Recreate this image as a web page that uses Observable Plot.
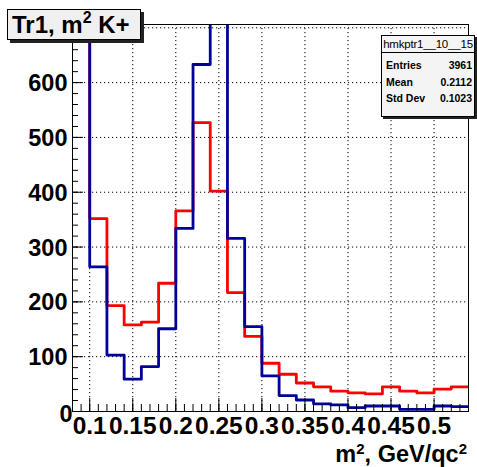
<!DOCTYPE html>
<html>
<head>
<meta charset="utf-8">
<script src="https://cdn.jsdelivr.net/npm/d3@7"></script>
<script src="https://cdn.jsdelivr.net/npm/@observablehq/plot@0.6"></script>
<style>
  html, body { margin: 0; padding: 0; background: #fff; }
  #wrap { position: relative; width: 477px; height: 467px; font-family: "Liberation Sans", Arial, Helvetica, sans-serif; }
  #wrap svg { position: absolute; left: 0; top: 0; }
  .title-box {
    position: absolute; left: 7px; top: 9px; width: 128px; height: 29px;
    background: #f0f0f0; border: 1px solid #000; box-shadow: 3px 3px 0 #222;
    font-weight: bold; font-size: 24px; line-height: 30px; padding-left: 4px; box-sizing: content-box;
    white-space: nowrap;
  }
  .title-box sup { font-size: 16px; position: relative; top: -1px; vertical-align: super; line-height: 0; }
  .xlabel sup { font-size: 15px; position: relative; top: -8px; vertical-align: baseline; line-height: 0; }
  .stats {
    position: absolute; left: 381px; top: 35px; width: 92px; height: 80px;
    background: #f4f4f4; border: 1px solid #000; box-shadow: 2px 2px 0 #222;
    font-size: 10.5px; color: #000;
  }
  .stats .head { height: 16px; line-height: 17px; text-align: center; font-size: 11.5px; border-bottom: 1px solid #000; white-space: nowrap; letter-spacing: -0.2px; }
  .stats .row { display: flex; justify-content: space-between; height: 16.6px; line-height: 16.6px; padding: 0 2px 0 4px; font-weight: bold; }
  .stats .rows { padding-top: 4px; }
  .xlabel { position: absolute; right: 10px; top: 443px; font-weight: bold; font-size: 23.5px; line-height: 22px; white-space: nowrap; }
</style>
</head>
<body>
<div id="wrap"></div>
<script>
// Lower edges of the 0.02-wide m² bins (GeV²/c⁴)
const binStart = [0.08, 0.10, 0.12, 0.14, 0.16, 0.18, 0.20, 0.22, 0.24, 0.26, 0.28, 0.30,
                  0.32, 0.34, 0.36, 0.38, 0.40, 0.42, 0.44, 0.46, 0.48, 0.50, 0.52];
const binEnd = 0.54;
// Bin contents, red histogram
const redCounts = [780, 352, 193, 158, 163, 234, 366, 527, 402, 217, 137, 88,
                   68, 52, 45, 37, 34, 32, 45, 37, 34, 41, 45];
// Bin contents, blue histogram
const blueCounts = [1100, 264, 103, 59, 82, 151, 334, 633, 900, 316, 155, 65,
                    29, 21, 14, 12, 7, 10, 10, 4, 4, 10, 9];

// Axis tick values and labels
const xMajor = [0.1, 0.15, 0.2, 0.25, 0.3, 0.35, 0.4, 0.45, 0.5];
const xLabels = ["0.1", "0.15", "0.2", "0.25", "0.3", "0.35", "0.4", "0.45", "0.5"];
const yMajor = [100, 200, 300, 400, 500, 600, 700];
const yLabels = ["100", "200", "300", "400", "500", "600"];
const yZeroLabel = "0";

const stats = { name: "hmkptr1__10__15", entries: "3961", mean: "0.2112", stddev: "0.1023" };

const W = 477, H = 467, mL = 72, mR = 9, mT = 24, mB = 56;
const FW = W - mL - mR, FH = H - mT - mB;
const yMax = 706;

function steps(counts) {
  const pts = binStart.map((x, i) => ({x, y: counts[i]}));
  pts.push({x: binEnd, y: counts[counts.length - 1]});
  return pts;
}

const xMinor = d3.range(0.08, binEnd + 1e-9, 0.01);
const yMinor = d3.range(0, yMax, 20);

const font = "Liberation Sans, Arial, Helvetica, sans-serif";

const chart = Plot.plot({
  width: W, height: H,
  marginLeft: mL, marginRight: mR, marginTop: mT, marginBottom: mB,
  x: {domain: [0.08, binEnd], axis: null},
  y: {domain: [0, yMax], axis: null},
  style: {fontFamily: font, background: "transparent", color: "#000"},
  marks: [
    Plot.ruleX(xMajor, {x: d => d, stroke: "#000", strokeWidth: 1, strokeDasharray: "1.2,2.8"}),
    Plot.ruleY(yMajor, {y: d => d, stroke: "#000", strokeWidth: 1, strokeDasharray: "1.2,2.8"}),
    Plot.line(steps(redCounts), {x: "x", y: "y", curve: "step-after", stroke: "#ff0000", strokeWidth: 2.8, clip: true}),
    Plot.line(steps(blueCounts), {x: "x", y: "y", curve: "step-after", stroke: "#00009c", strokeWidth: 2.8, clip: true}),
    // inward ticks, ROOT style
    Plot.tickX(xMinor, {x: d => d, stroke: "#000", insetTop: FH - 7}),
    Plot.tickX(xMajor, {x: d => d, stroke: "#000", insetTop: FH - 13}),
    Plot.tickY(yMinor, {y: d => d, stroke: "#000", insetRight: FW - 6}),
    Plot.tickY(yMajor, {y: d => d, stroke: "#000", insetRight: FW - 11}),
    Plot.frame({stroke: "#000", strokeWidth: 1}),
    Plot.text(xMajor, {x: d => d, y: 0, text: (d, i) => xLabels[i], dy: 5, lineAnchor: "top",
      fontSize: 24.5, fontWeight: "bold", fill: "#000"}),
    Plot.text(yLabels, {x: 0.08, y: d => +d, text: d => d, dx: -5, dy: 1, textAnchor: "end",
      fontSize: 23.5, fontWeight: "bold", fill: "#000"}),
    Plot.text([yZeroLabel], {x: 0.08, y: d => +d, text: d => d, dx: 0, dy: 3, textAnchor: "end",
      fontSize: 23.5, fontWeight: "bold", fill: "#000"})
  ]
});

const wrap = document.getElementById("wrap");
wrap.appendChild(chart);

const title = document.createElement("div");
title.className = "title-box";
title.innerHTML = "Tr1, m<sup>2</sup> K+";
wrap.appendChild(title);

const xlab = document.createElement("div");
xlab.className = "xlabel";
xlab.innerHTML = "m<sup>2</sup>, GeV/qc<sup>2</sup>";
wrap.appendChild(xlab);

const box = document.createElement("div");
box.className = "stats";
box.innerHTML = `<div class="head">${stats.name}</div>
  <div class="rows">
  <div class="row"><span>Entries</span><span>${stats.entries}</span></div>
  <div class="row"><span>Mean</span><span>${stats.mean}</span></div>
  <div class="row"><span>Std Dev</span><span>${stats.stddev}</span></div>
  </div>`;
wrap.appendChild(box);
</script>
</body>
</html>
